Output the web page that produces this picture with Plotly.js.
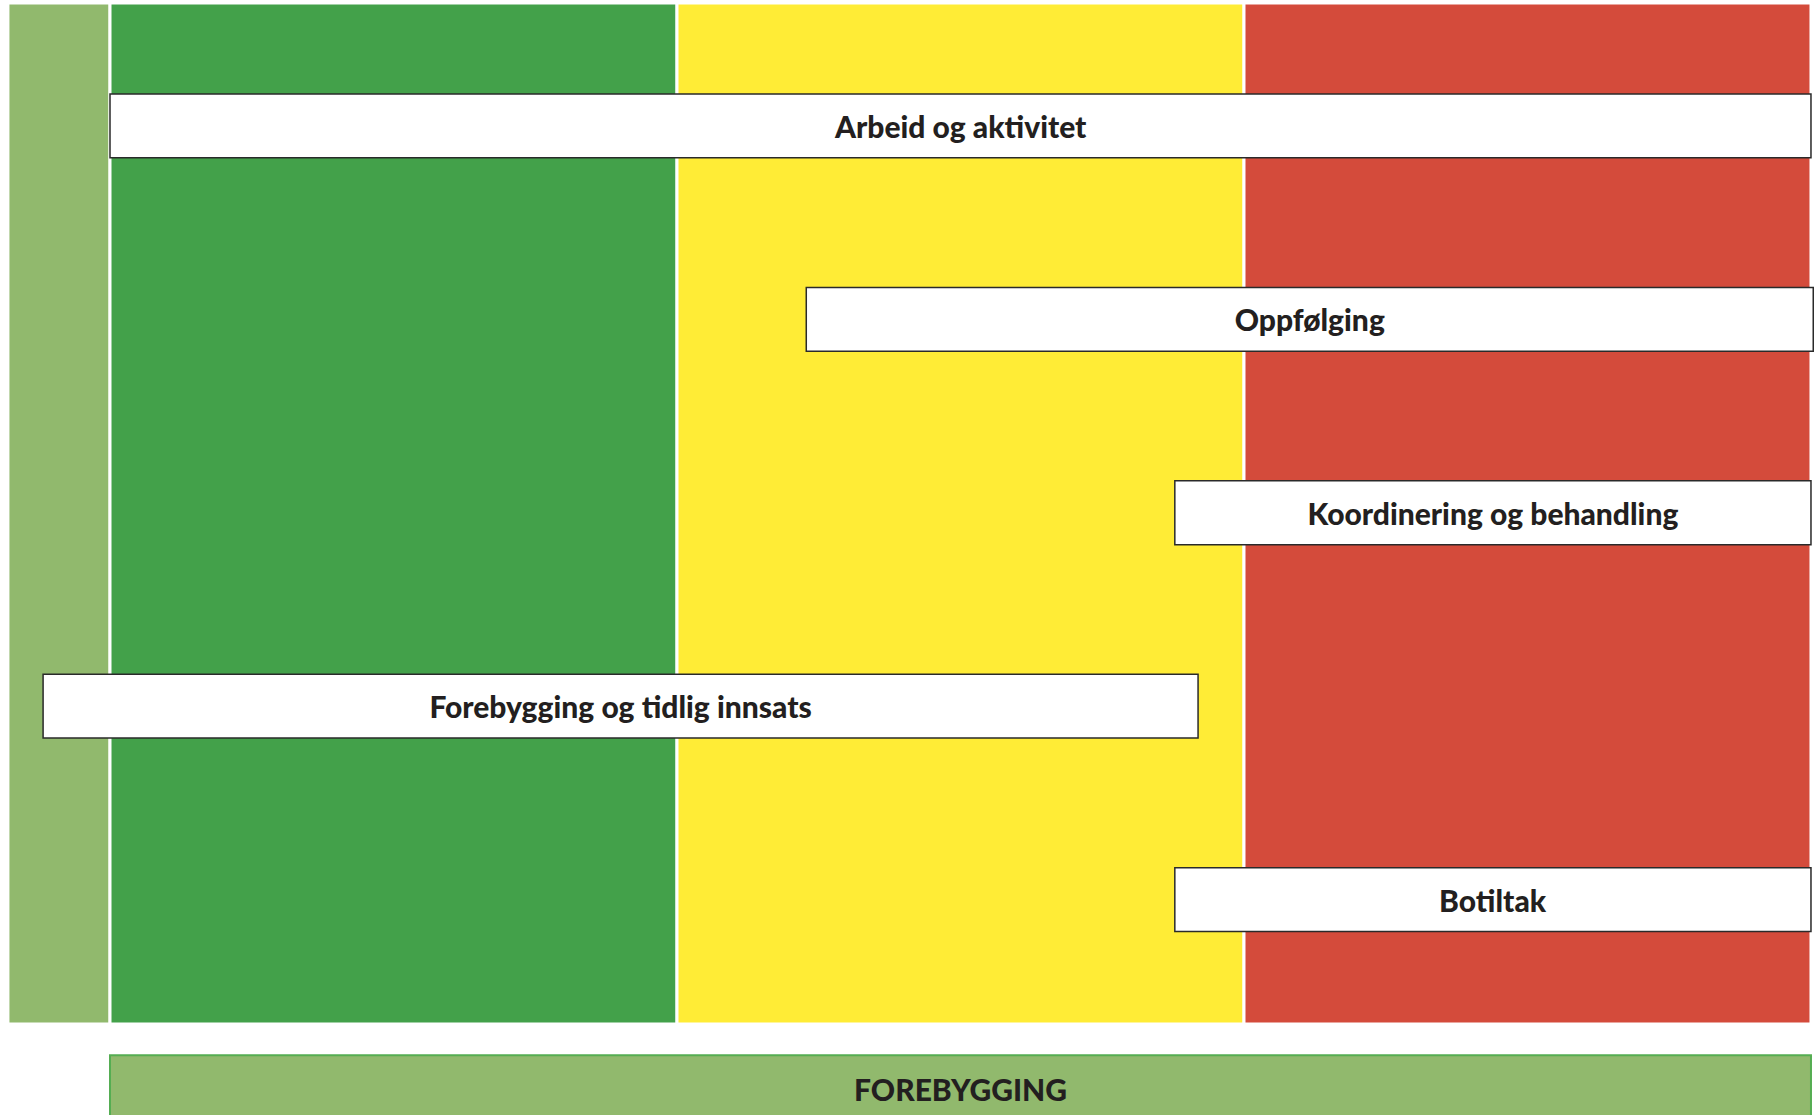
<!DOCTYPE html>
<html>
<head>
<meta charset="utf-8">
<script src="https://cdn.plot.ly/plotly-3.0.1.min.js"></script>
<style>html,body{margin:0;padding:0;background:#fff;overflow:hidden}</style>
</head>
<body>
<div id="chart" style="width:1820px;height:1115px"></div>
<script>
// Stages (background columns); x measured in stage widths
const stageNames = ['Forebygging', 'Grønn', 'Gul', 'Rød'];
const stageStart = [-0.18, 0, 1, 2];
const stageEnd = [0, 1, 2, 3];
const stageBottom = [0.356, 0.356, 0.356, 0.356];
const stageTop = [5.636, 5.636, 5.636, 5.636];

// Measures (horizontal bars)
const measures = ['Arbeid og aktivitet', 'Oppfølging', 'Koordinering og behandling', 'Forebygging og tidlig innsats', 'Botiltak'];
const measureRow = [5, 4, 3, 2, 1];
const measureStart = [0, 1.228, 1.878, -0.118, 1.878];
const measureEnd = [3, 3.004, 3, 1.919, 3];

// Base bar
const baseLabel = ['FOREBYGGING'];
const baseRow = [0.02];
const baseStart = [0];
const baseEnd = [3];

const stageColors = ['#91b96d', '#43a14a', '#ffec36', '#d44b3b'];
const textFont = {family: 'Lato, "Open Sans", sans-serif', size: 30, color: '#231f20', weight: 900};

const traces = [
  {
    type: 'bar', orientation: 'v',
    x: stageStart.map((s, i) => (s + stageEnd[i]) / 2),
    width: stageStart.map((s, i) => stageEnd[i] - s),
    base: stageBottom,
    y: stageTop.map((t, i) => t - stageBottom[i]),
    text: stageNames, textposition: 'none',
    marker: {color: stageColors, line: {color: '#ffffff', width: 3}},
    hoverinfo: 'skip', showlegend: false
  },
  {
    type: 'bar', orientation: 'h',
    y: measureRow,
    base: measureStart,
    x: measureStart.map((s, i) => measureEnd[i] - s),
    width: 0.33,
    text: measures, textposition: 'inside', insidetextanchor: 'middle', textangle: 0,
    insidetextfont: textFont, constraintext: 'none',
    marker: {color: '#ffffff', line: {color: '#2a2a2a', width: 1.5}},
    hoverinfo: 'skip', showlegend: false
  },
  {
    type: 'bar', orientation: 'h',
    y: baseRow,
    base: baseStart,
    x: baseStart.map((s, i) => baseEnd[i] - s),
    width: 0.35,
    text: baseLabel, textposition: 'inside', insidetextanchor: 'middle', textangle: 0,
    insidetextfont: textFont, constraintext: 'none',
    marker: {color: '#91b96d', line: {color: '#55ad52', width: 2}},
    hoverinfo: 'skip', showlegend: false
  }
];

const layout = {
  width: 1820, height: 1115,
  margin: {l: 0, r: 0, t: 0, b: 0, pad: 0},
  paper_bgcolor: '#ffffff', plot_bgcolor: '#ffffff',
  barmode: 'overlay',
  showlegend: false,
  xaxis: {range: [-0.194, 3.0159], visible: false, fixedrange: true},
  yaxis: {range: [-0.114, 5.651], visible: false, fixedrange: true},
  font: {family: 'Lato, sans-serif'}
};

Plotly.newPlot('chart', traces, layout, {displayModeBar: false, staticPlot: true});
</script>
</body>
</html>
